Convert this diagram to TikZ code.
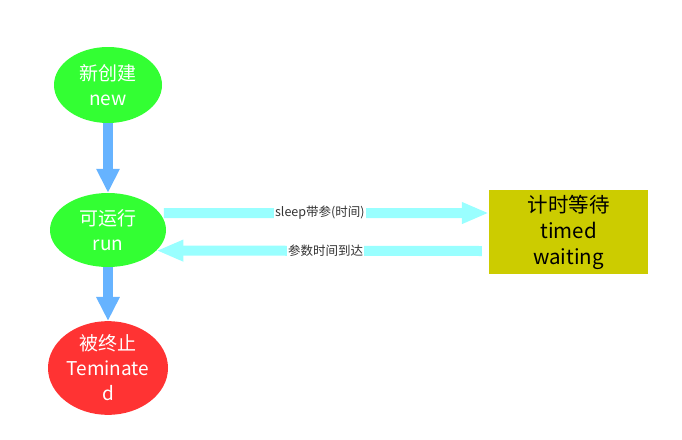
\documentclass[tikz,border=0pt]{standalone}
\usepackage{fontspec}
\setmainfont{Noto Sans CJK SC}
\usetikzlibrary{arrows.meta,shapes.geometric}
\definecolor{stgreen}{RGB}{51,255,51}
\definecolor{stred}{RGB}{255,51,51}
\definecolor{stblue}{RGB}{102,179,255}
\definecolor{stcyan}{RGB}{153,255,255}
\definecolor{styellow}{RGB}{204,204,0}
\definecolor{lbl}{RGB}{51,51,51}
\tikzset{
  state/.style={ellipse, inner sep=0pt, text=white, align=center,
    font=\fontsize{19}{25}\selectfont},
  waitbox/.style={rectangle, fill=styellow, inner sep=0pt, minimum width=159pt,
    minimum height=84pt, align=center, font=\fontsize{20.5}{26}\selectfont},
  downarrow/.style={draw=stblue, line width=10pt,
    -{Triangle[length=24pt,width=22pt,fill=stblue]}},
  sidearrow/.style={draw=stcyan, line width=10pt,
    -{Triangle[length=27pt,width=20pt,fill=stcyan]}},
  lab/.style={fill=white, inner sep=1pt, text=lbl, font=\fontsize{12.5}{14}\selectfont}
}
\begin{document}
\begin{tikzpicture}[x=1pt,y=-1pt]
\useasboundingbox (0,0) rectangle (682,439);
\node[state, fill=stgreen, minimum width=108pt, minimum height=76pt] (new) at (108,85) {新创建\\new};
\node[state, fill=stgreen, minimum width=116pt, minimum height=74pt] (run) at (108,230) {可运行\\run};
\node[state, fill=stred, minimum width=120pt, minimum height=80pt] (term) at (108,368) {被终止\\Teminate\\d};
\node[waitbox] (timed) at (568.5,232) {计时等待\\timed\\waiting};
\draw[downarrow] (new.south) -- (run.north);
\draw[downarrow] (run.south) -- (term.north);
\draw[sidearrow] ([xshift=4pt]run.18) -- node[lab, pos=0.48] {sleep带参(时间)} ([yshift=19pt]timed.west);
\draw[sidearrow] ([yshift=-19pt,xshift=-7pt]timed.west) -- node[lab, pos=0.48] {参数时间到达} (run.-23.6);
\end{tikzpicture}
\end{document}
